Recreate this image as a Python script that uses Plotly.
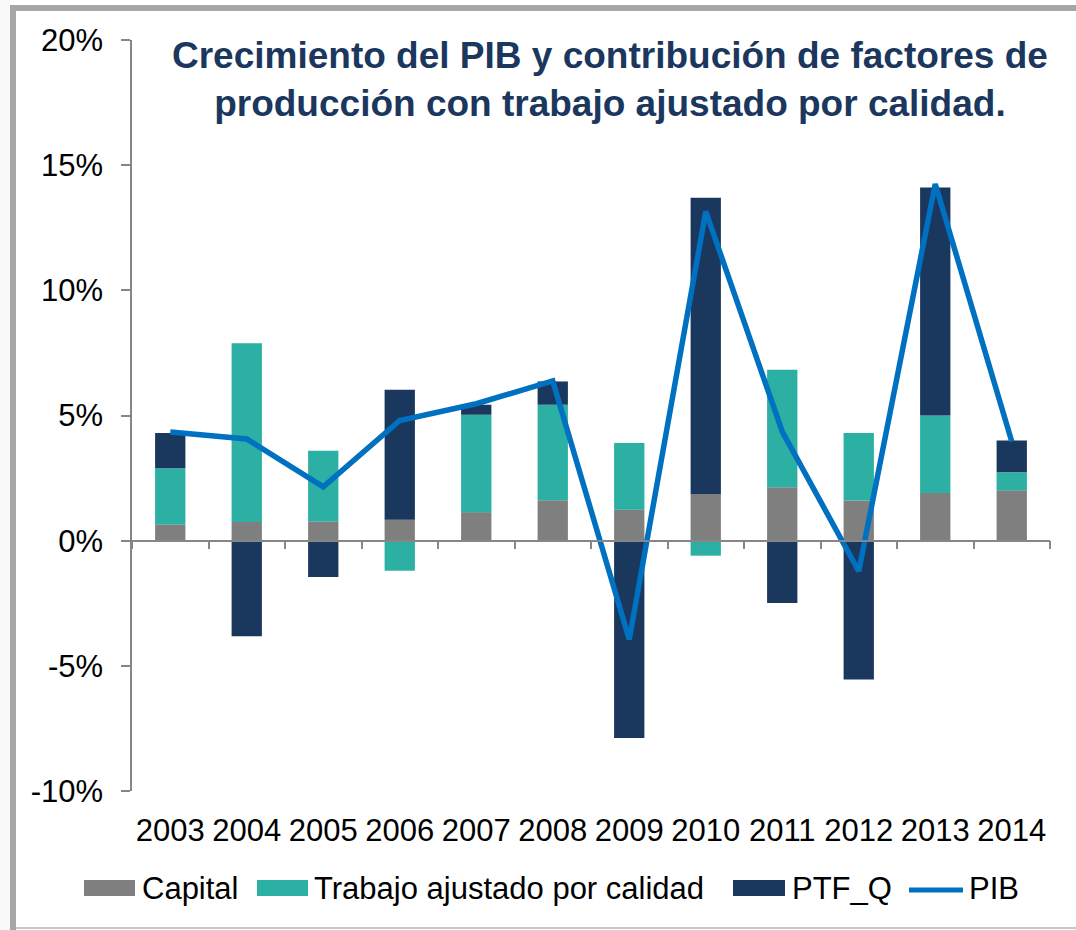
import plotly.graph_objects as go

# Contribuciones al crecimiento del PIB (puntos porcentuales)
years = ["2003", "2004", "2005", "2006", "2007", "2008",
         "2009", "2010", "2011", "2012", "2013", "2014"]
capital = [0.65, 0.75, 0.77, 0.84, 1.14, 1.61, 1.24, 1.86, 2.13, 1.60, 1.90, 2.01]
trabajo = [2.24, 7.14, 2.82, -1.20, 3.89, 3.82, 2.66, -0.60, 4.70, 2.70, 3.10, 0.72]
ptf_q = [1.41, -3.82, -1.45, 5.19, 0.40, 0.93, -7.88, 11.84, -2.49, -5.55, 9.11, 1.27]
pib = [4.34, 4.06, 2.15, 4.80, 5.47, 6.38, -3.95, 13.15, 4.36, -1.22, 14.25, 3.96]

y_ticks = [-10, -5, 0, 5, 10, 15, 20]
y_tick_text = ["-10%", "-5%", "0%", "5%", "10%", "15%", "20%"]

series_names = ["Capital", "Trabajo ajustado por calidad", "PTF_Q", "PIB"]
C_CAPITAL = "#7F7F7F"
C_TRABAJO = "#2BB0A3"
C_PTF = "#1A375E"
C_PIB = "#0070C0"
C_TITLE = "#1B375E"
C_AXIS = "#868686"
FONT = "Liberation Sans, Arial, sans-serif"

W, H = 1076, 930
ML, MR, MT, MB = 132, 26, 40, 139
PW, PH = W - ML - MR, H - MT - MB


def px_x(p):
    return (p - ML) / PW


def px_y(p):
    return (H - MB - p) / PH


fig = go.Figure()
fig.add_trace(go.Bar(x=years, y=capital, name=series_names[0],
                     marker=dict(color=C_CAPITAL, line=dict(width=0))))
fig.add_trace(go.Bar(x=years, y=trabajo, name=series_names[1],
                     marker=dict(color=C_TRABAJO, line=dict(width=0))))
fig.add_trace(go.Bar(x=years, y=ptf_q, name=series_names[2],
                     marker=dict(color=C_PTF, line=dict(width=0))))
# the growth line lives on the label axis, which shares the same categories
fig.add_trace(go.Scatter(x=years, y=pib, name=series_names[3], mode="lines",
                         xaxis="x2", yaxis="y",
                         line=dict(color=C_PIB, width=5.5)))

zero_pos = (0 - y_ticks[0]) / (y_ticks[-1] - y_ticks[0])
x_range = [-0.5, len(years) - 0.5]

fig.update_layout(
    width=W, height=H,
    margin=dict(l=ML, r=MR, t=MT, b=MB, pad=0),
    paper_bgcolor="white", plot_bgcolor="white",
    barmode="relative", bargap=0.604,
    showlegend=False,
    font=dict(family=FONT, size=31, color="#000000"),
    # category axis drawn along the zero line
    xaxis=dict(type="category", anchor="free", position=zero_pos,
               range=x_range, categoryorder="array", categoryarray=years,
               showline=True, linecolor=C_AXIS, linewidth=1.5,
               ticks="outside", tickson="boundaries", ticklen=8,
               tickcolor=C_AXIS, tickwidth=1.5,
               showticklabels=False, showgrid=False, zeroline=False),
    # year labels at the bottom of the plot
    xaxis2=dict(type="category", overlaying="x", anchor="y", side="bottom",
                range=x_range, categoryorder="array", categoryarray=years,
                ticks="outside", ticklen=12, tickcolor="rgba(0,0,0,0)",
                showline=False, showgrid=False, zeroline=False,
                tickfont=dict(size=31, color="#000000")),
    yaxis=dict(range=[y_ticks[0], y_ticks[-1]],
               tickvals=y_ticks, ticktext=y_tick_text,
               showline=True, linecolor=C_AXIS, linewidth=1.5,
               ticks="outside", ticklen=9, tickcolor=C_AXIS, tickwidth=1.5,
               ticklabelstandoff=12,
               showgrid=False, zeroline=False,
               tickfont=dict(size=31, color="#000000")),
)

# title inside the plot area
fig.add_annotation(
    text="<b>Crecimiento del PIB y contribución de factores de<br>"
         "producción con trabajo ajustado por calidad.</b>",
    xref="paper", yref="paper", x=px_x(610), y=px_y(33),
    xanchor="center", yanchor="top", showarrow=False, align="center",
    font=dict(family=FONT, size=37, color=C_TITLE),
)

# legend row
legend_cy = 888
legend_items = [
    (series_names[0], C_CAPITAL, 84, 135, 140, "box"),
    (series_names[1], C_TRABAJO, 257, 308, 312, "box"),
    (series_names[2], C_PTF, 733, 785, 790, "box"),
    (series_names[3], C_PIB, 909, 963, 967, "line"),
]
for label, color, x0, x1, xt, kind in legend_items:
    if kind == "box":
        fig.add_shape(type="rect", xref="paper", yref="paper",
                      x0=px_x(x0), x1=px_x(x1),
                      y0=px_y(legend_cy - 8), y1=px_y(legend_cy + 8),
                      fillcolor=color, line=dict(width=0))
    else:
        fig.add_shape(type="line", xref="paper", yref="paper",
                      x0=px_x(x0), x1=px_x(x1),
                      y0=px_y(legend_cy + 2), y1=px_y(legend_cy + 2),
                      line=dict(color=color, width=5))
    fig.add_annotation(text=label, xref="paper", yref="paper",
                       x=px_x(xt), y=px_y(legend_cy),
                       xanchor="left", yanchor="middle", showarrow=False,
                       font=dict(family=FONT, size=31, color="#000000"))

# chart frame
fig.add_shape(type="rect", xref="paper", yref="paper",
              x0=px_x(0), x1=px_x(10), y0=px_y(H), y1=px_y(0),
              fillcolor="#F9F9F9", line=dict(width=0), layer="below")
fig.add_shape(type="line", xref="paper", yref="paper",
              x0=px_x(13), x1=px_x(13), y0=px_y(5), y1=px_y(H),
              line=dict(color="#A6A6A6", width=6))
fig.add_shape(type="line", xref="paper", yref="paper",
              x0=px_x(10), x1=px_x(W), y0=px_y(8), y1=px_y(8),
              line=dict(color="#A6A6A6", width=6))
fig.add_shape(type="line", xref="paper", yref="paper",
              x0=px_x(16), x1=px_x(W), y0=px_y(928), y1=px_y(928),
              line=dict(color="#C8C8C8", width=2))

fig.write_html("out.html")
